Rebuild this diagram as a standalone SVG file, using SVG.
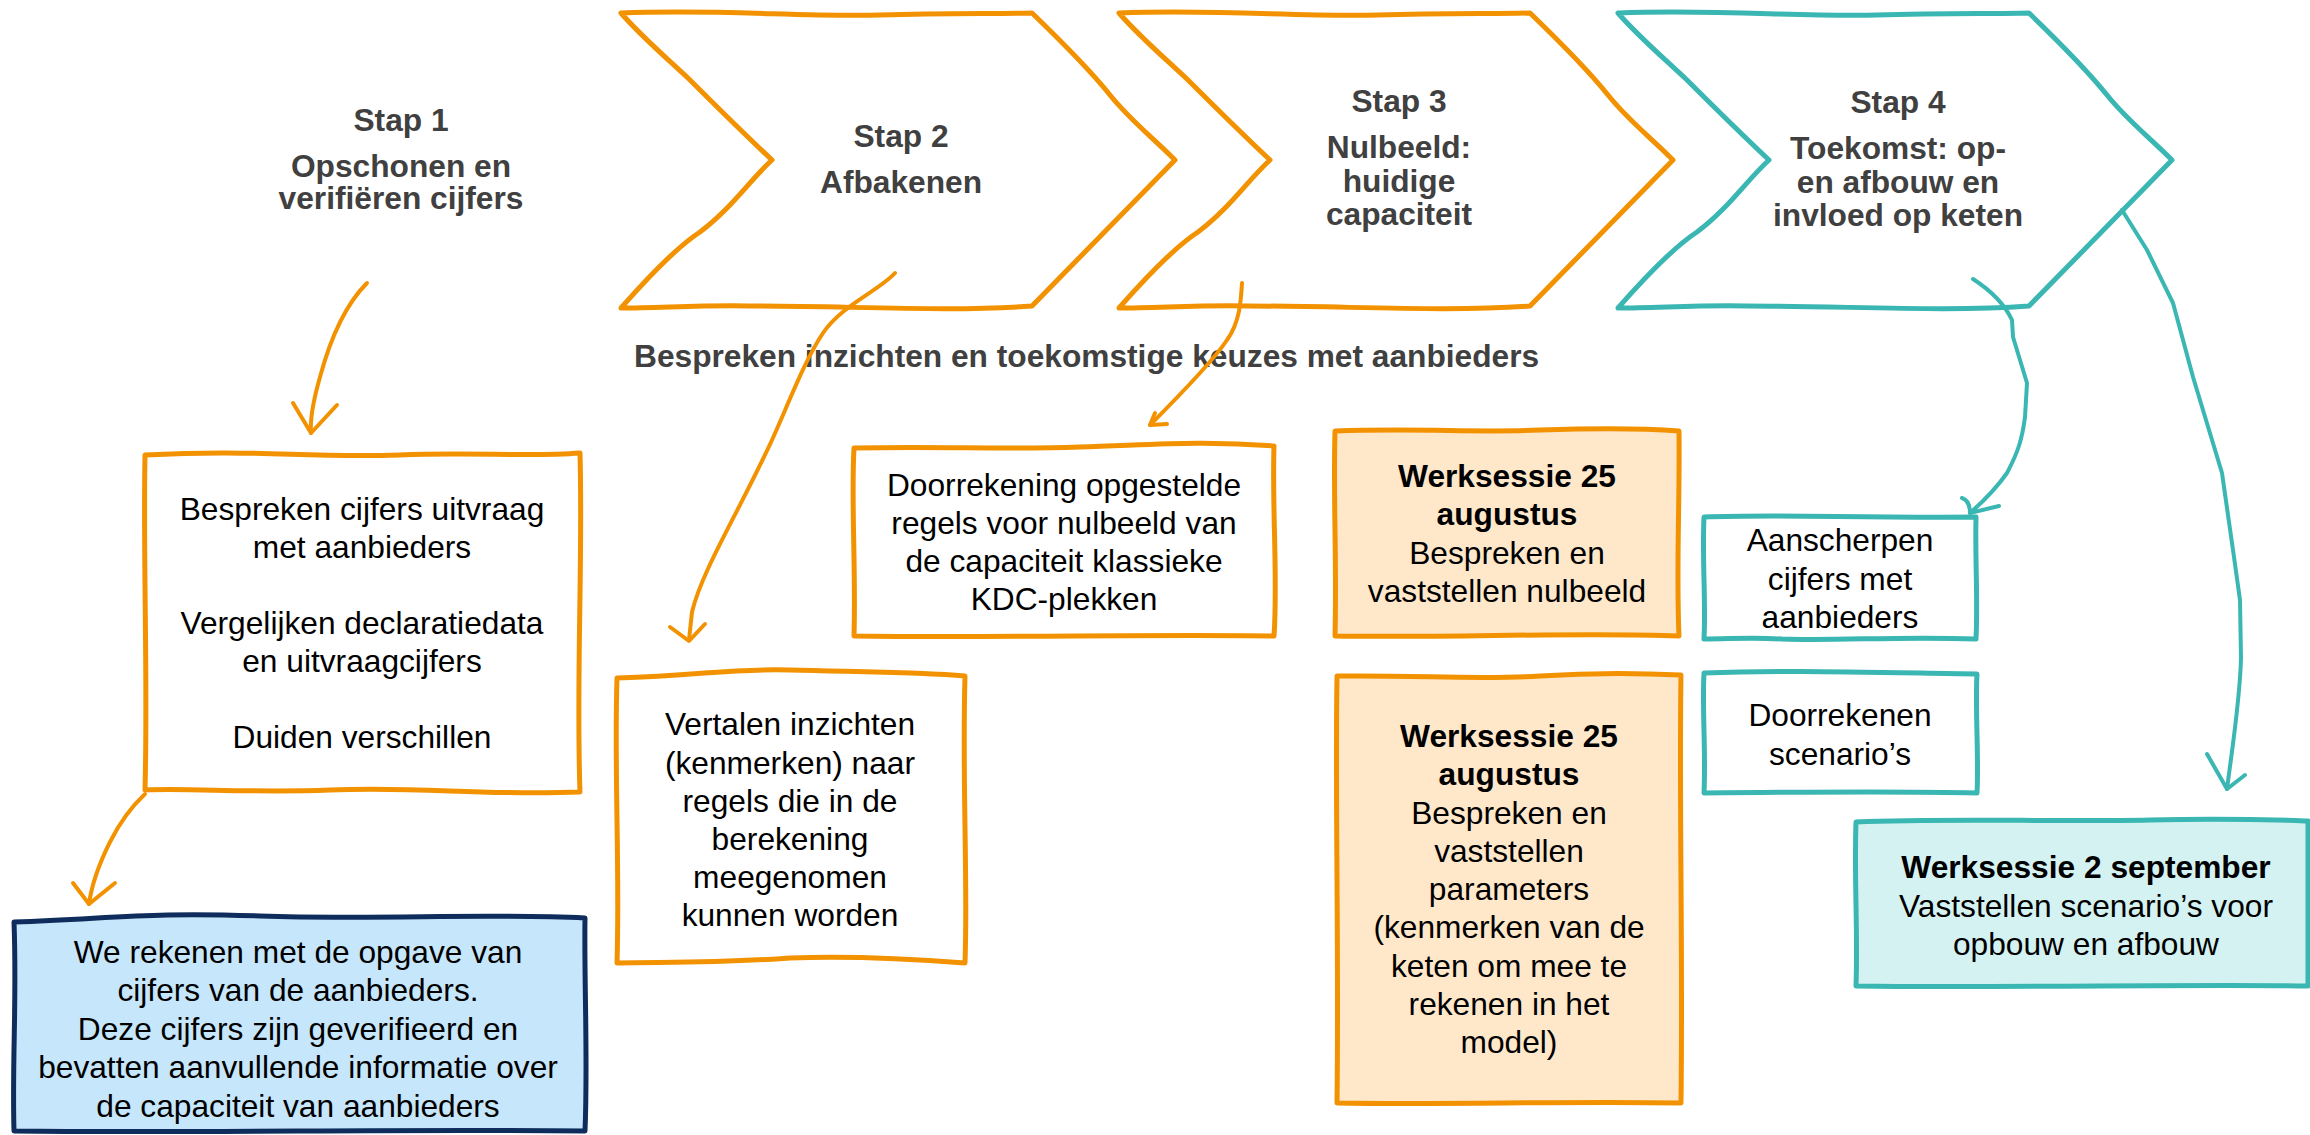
<svg xmlns="http://www.w3.org/2000/svg" width="2310" height="1135" viewBox="0 0 2310 1135">
<style>
.o{fill:none;stroke:#F39200;stroke-width:5;stroke-linejoin:round;stroke-linecap:round}
.tl{fill:none;stroke:#3BB7B3;stroke-width:5;stroke-linejoin:round;stroke-linecap:round}
.a{fill:none;stroke-width:4;stroke-linejoin:round;stroke-linecap:round}
.ao{stroke:#F39200}
.at{stroke:#3BB7B3}
.wf{fill:#FFFFFF}
.pf{fill:#FFE7CA}
.bf{fill:#C6E6FB;stroke:#0F2D5C;stroke-width:5;stroke-linejoin:round}
.tf{fill:#D4F2F2}
.h{font-family:"Liberation Sans",Arial,sans-serif;font-size:31.7px;font-weight:bold;fill:#404040;text-anchor:middle}
.hs{font-family:"Liberation Sans",Arial,sans-serif;font-size:31.7px;font-weight:bold;fill:#404040}
.b{font-family:"Liberation Sans",Arial,sans-serif;font-size:31.7px;fill:#000;text-anchor:middle}
.bb{font-family:"Liberation Sans",Arial,sans-serif;font-size:31.7px;font-weight:bold;fill:#000;text-anchor:middle}
</style>
<defs>
<path id="chev" d="M621,13 C720,9 800,17 880,15 C950,13 1000,14 1032,13 C1060,40 1090,70 1110,95 C1130,120 1150,135 1175,160 L1032,306 C950,312 850,306 750,306 C700,305 660,308 621,308 C650,275 680,245 700,232 C730,210 750,180 772,160 C740,130 710,100 690,80 C660,52 640,35 621,13 Z"/>
</defs>
<rect width="2310" height="1135" fill="#FFFFFF"/>

<g id="stap1">
<text class="h" x="401" y="131">Stap 1</text>
<text class="h" x="401" y="177">Opschonen en</text>
<text class="h" x="401" y="209">verifiëren cijfers</text>
</g>

<g id="stap2">
<use href="#chev" class="o wf"/>
<text class="h" x="901" y="147">Stap 2</text>
<text class="h" x="901" y="193">Afbakenen</text>
</g>

<g id="stap3">
<use href="#chev" class="o wf" transform="translate(498,0)"/>
<text class="h" x="1399" y="112">Stap 3</text>
<text class="h" x="1399" y="158">Nulbeeld:</text>
<text class="h" x="1399" y="192">huidige</text>
<text class="h" x="1399" y="225">capaciteit</text>
</g>

<g id="stap4">
<use href="#chev" class="tl wf" transform="translate(997,0)"/>
<text class="h" x="1898" y="113">Stap 4</text>
<text class="h" x="1898" y="159">Toekomst: op-</text>
<text class="h" x="1898" y="193">en afbouw en</text>
<text class="h" x="1898" y="226">invloed op keten</text>
</g>

<g id="bespreken-label">
<text class="hs" x="634" y="367">Bespreken inzichten en toekomstige keuzes met aanbieders</text>
</g>

<g id="boxA">
<path class="o wf" d="M145,455 C260,449 300,458 400,455 C470,452 530,457 580,453 C583,560 576,680 580,792 C480,796 420,786 330,790 C250,793 190,788 145,790 C148,680 143,560 145,455 Z"/>
<text class="b" x="362" y="520">Bespreken cijfers uitvraag</text>
<text class="b" x="362" y="558">met aanbieders</text>
<text class="b" x="362" y="634">Vergelijken declaratiedata</text>
<text class="b" x="362" y="672">en uitvraagcijfers</text>
<text class="b" x="362" y="748">Duiden verschillen</text>
</g>

<g id="boxB">
<path class="bf" d="M14,922 C120,918 150,912 260,916 C380,920 480,913 585,918 C584,980 588,1060 585,1131 C400,1129 200,1133 14,1131 C12,1060 17,1000 14,922 Z"/>
<text class="b" x="298" y="963">We rekenen met de opgave van</text>
<text class="b" x="298" y="1001">cijfers van de aanbieders.</text>
<text class="b" x="298" y="1040">Deze cijfers zijn geverifieerd en</text>
<text class="b" x="298" y="1078">bevatten aanvullende informatie over</text>
<text class="b" x="298" y="1117">de capaciteit van aanbieders</text>
</g>

<g id="boxC">
<path class="o wf" d="M617,678 C700,676 730,668 790,670 C870,672 920,672 965,676 C962,780 968,880 965,963 C900,958 850,956 790,958 C720,963 680,962 617,963 C620,870 614,770 617,678 Z"/>
<text class="b" x="790" y="735">Vertalen inzichten</text>
<text class="b" x="790" y="774">(kenmerken) naar</text>
<text class="b" x="790" y="812">regels die in de</text>
<text class="b" x="790" y="850">berekening</text>
<text class="b" x="790" y="888">meegenomen</text>
<text class="b" x="790" y="926">kunnen worden</text>
</g>

<g id="boxD">
<path class="o wf" d="M854,448 C950,446 1000,450 1080,447 C1150,445 1200,440 1274,446 C1272,510 1278,580 1274,636 C1150,634 1000,638 854,636 C856,570 851,500 854,448 Z"/>
<text class="b" x="1064" y="496">Doorrekening opgestelde</text>
<text class="b" x="1064" y="534">regels voor nulbeeld van</text>
<text class="b" x="1064" y="572">de capaciteit klassieke</text>
<text class="b" x="1064" y="610">KDC-plekken</text>
</g>

<g id="boxE">
<path class="o pf" d="M1335,431 C1420,428 1480,433 1540,430 C1600,428 1640,428 1679,431 C1680,500 1676,570 1679,636 C1580,632 1450,638 1335,636 C1337,560 1333,500 1335,431 Z"/>
<text class="bb" x="1507" y="487">Werksessie 25</text>
<text class="bb" x="1507" y="525">augustus</text>
<text class="b" x="1507" y="564">Bespreken en</text>
<text class="b" x="1507" y="602">vaststellen nulbeeld</text>
</g>

<g id="boxF">
<path class="o pf" d="M1337,676 C1420,675 1480,680 1540,676 C1600,672 1640,673 1681,675 C1679,800 1683,950 1681,1103 C1560,1101 1450,1105 1337,1103 C1339,950 1335,800 1337,676 Z"/>
<text class="bb" x="1509" y="747">Werksessie 25</text>
<text class="bb" x="1509" y="785">augustus</text>
<text class="b" x="1509" y="824">Bespreken en</text>
<text class="b" x="1509" y="862">vaststellen</text>
<text class="b" x="1509" y="900">parameters</text>
<text class="b" x="1509" y="938">(kenmerken van de</text>
<text class="b" x="1509" y="977">keten om mee te</text>
<text class="b" x="1509" y="1015">rekenen in het</text>
<text class="b" x="1509" y="1053">model)</text>
</g>

<g id="boxG">
<path class="tl wf" d="M1704,517 C1780,514 1850,518 1976,517 C1975,560 1978,600 1976,639 C1900,636 1840,641 1782,639 C1750,637 1730,639 1704,639 C1706,600 1702,560 1704,517 Z"/>
<text class="b" x="1840" y="551">Aanscherpen</text>
<text class="b" x="1840" y="590">cijfers met</text>
<text class="b" x="1840" y="628">aanbieders</text>
</g>

<g id="boxH">
<path class="tl wf" d="M1704,673 C1780,670 1850,672 1977,674 C1975,710 1979,760 1977,793 C1900,791 1800,792 1704,793 C1706,750 1702,710 1704,673 Z"/>
<text class="b" x="1840" y="726">Doorrekenen</text>
<text class="b" x="1840" y="765">scenario’s</text>
</g>

<g id="boxI">
<path class="tl tf" d="M1856,822 C1950,818 2050,822 2150,820 C2230,818 2280,820 2308,821 L2308,986 C2200,984 2000,988 1856,986 C1858,930 1854,880 1856,822 Z"/>
<text class="bb" x="2086" y="878">Werksessie 2 september</text>
<text class="b" x="2086" y="917">Vaststellen scenario’s voor</text>
<text class="b" x="2086" y="955">opbouw en afbouw</text>
</g>

<g id="connectors">
<path class="a ao" d="M367,283 C345,305 330,340 320,377 C312,405 310,420 311,433"/>
<path class="a ao" d="M293,403 L311,433 L337,405"/>
<path class="a ao" d="M145,794 C130,808 120,822 110,842 C100,862 92,882 89,904"/>
<path class="a ao" d="M73,883 L89,904 L115,883"/>
<path class="a ao" d="M895,273 C880,290 842,305 823,333 C805,360 790,400 772,440 C740,510 702,570 692,612 L689,640"/>
<path class="a ao" d="M670,627 L689,641 L705,624"/>
<path class="a ao" d="M1242,283 C1241,300 1240,322 1227,340 C1215,358 1190,385 1150,425"/>
<path class="a ao" d="M1155,413 L1150,425 L1167,424"/>
<path class="a at" d="M1973,279 C1990,290 2005,305 2012,320 L2013,337 L2027,383 L2025,417 C2022,440 2018,452 2007,473 C1995,490 1985,500 1970,513"/>
<path class="a at" d="M1962,498 C1968,500 1970,505 1970,513 L1999,506"/>
<path class="a at" d="M2122,210 L2147,250 L2173,303 L2193,377 L2222,473 L2233,550 L2240,600 L2241,658 C2240,700 2232,750 2227,789"/>
<path class="a at" d="M2207,754 L2227,789 L2245,775"/>
</g>
</svg>
